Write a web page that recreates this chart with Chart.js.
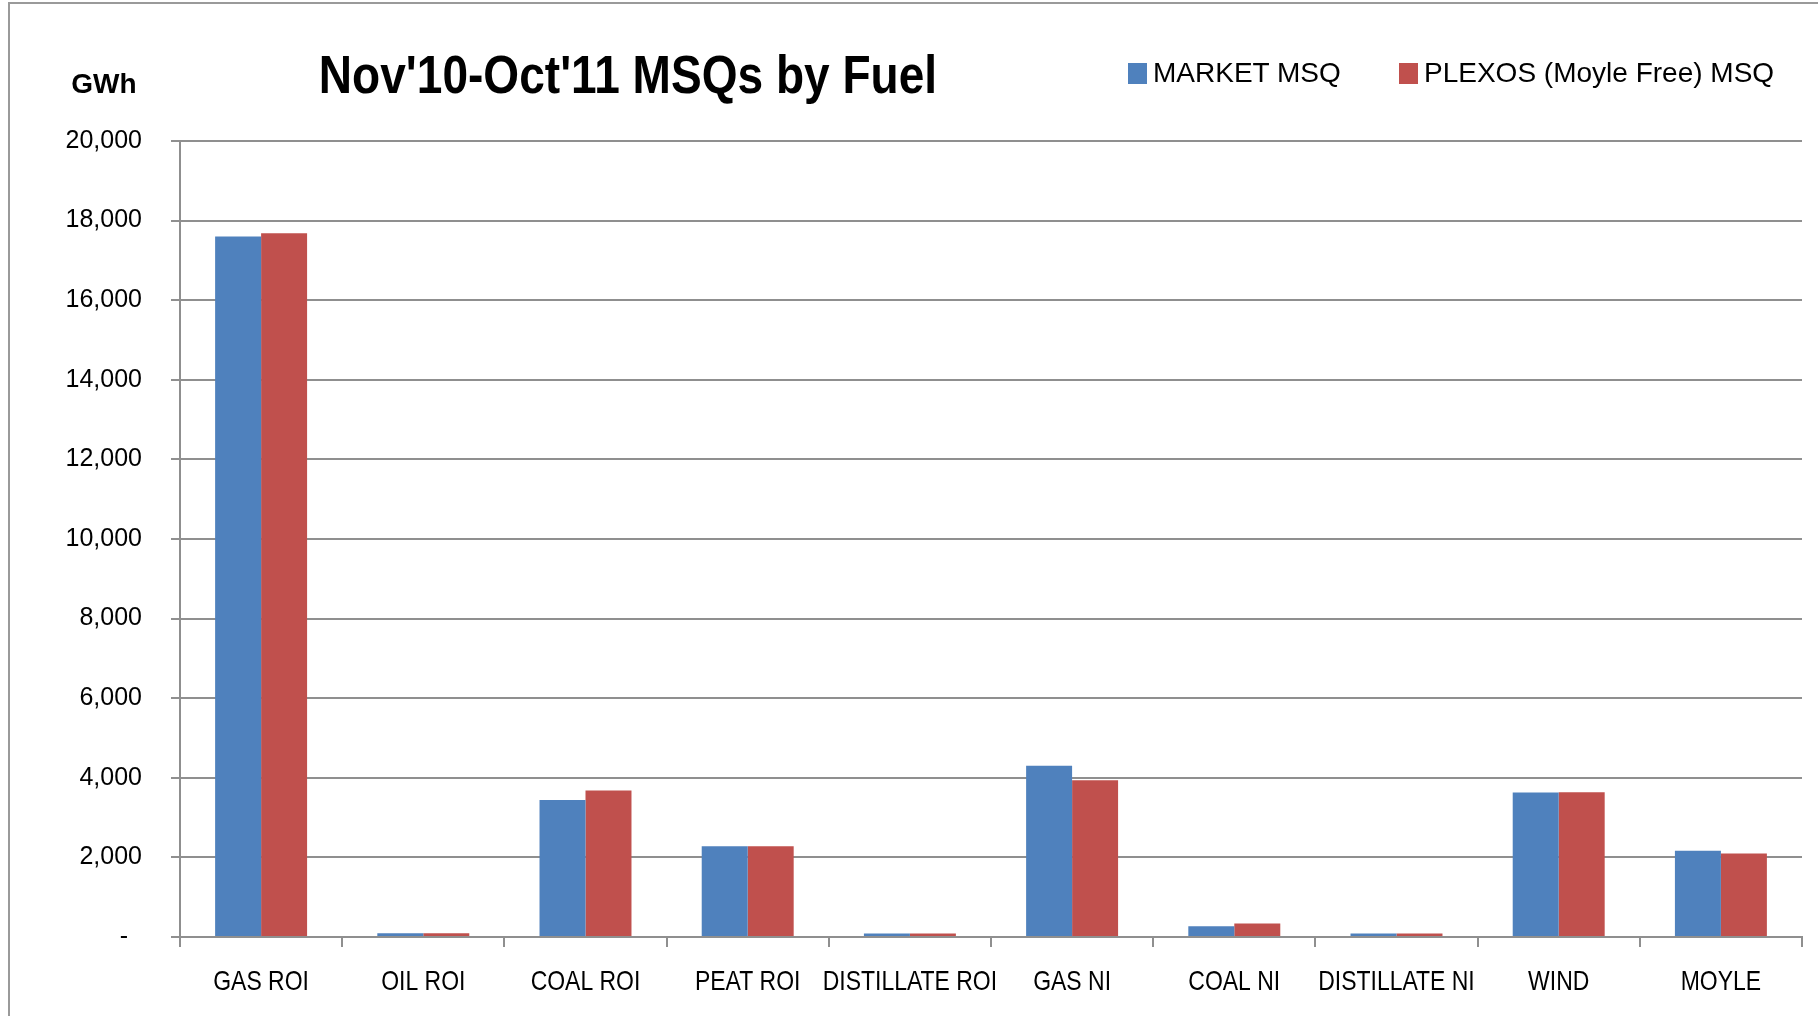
<!DOCTYPE html>
<html lang="en">
<head>
    <meta charset="UTF-8">
    <title>Nov'10-Oct'11 MSQs by Fuel</title>
    <script src="https://cdn.jsdelivr.net/npm/chart.js"></script>
    <style>
        body {
            margin: 0;
            background: #ffffff;
            overflow: hidden;
        }

        .wrap {
            position: relative;
            width: 1818px;
            height: 1016px;
            overflow: hidden;
            background: #ffffff;
        }

        .frame {
            position: absolute;
            left: 8px;
            top: 2px;
            width: 1840px;
            height: 1040px;
            border: 2px solid #9a9a9a;
        }

        canvas {
            position: absolute;
            left: 0;
            top: 0;
        }

        .title {
            position: absolute;
            left: 0;
            top: 47px;
            width: 1256px;
            text-align: center;
            font: bold 54px "Liberation Sans", Arial, sans-serif;
            line-height: 54px;
            color: #000;
            white-space: nowrap;
            transform: scaleX(0.853);
            transform-origin: 628px 0;
        }

        .unit {
            position: absolute;
            left: 54px;
            top: 70px;
            width: 100px;
            text-align: center;
            font: bold 28px "Liberation Sans", Arial, sans-serif;
            line-height: 28px;
            color: #000;
        }

        .legend-item {
            position: absolute;
            top: 59px;
            height: 30px;
            font: 28px "Liberation Sans", Arial, sans-serif;
            line-height: 28px;
            color: #000;
            white-space: nowrap;
        }

        .legend-item span.box {
            position: absolute;
            left: 0;
            top: 4px;
            width: 19px;
            height: 21px;
        }

        .legend-item span.txt {
            position: absolute;
            left: 25px;
            top: 0;
        }
    </style>
</head>
<body>
    <div class="wrap">
        <div class="frame"></div>
        <canvas id="msq-chart" width="1818" height="1016"></canvas>
        <div class="title">Nov'10-Oct'11 MSQs by Fuel</div>
        <div class="unit">GWh</div>
        <div id="legend"></div>
    </div>

    <script>
        // Values
        const fuels = ['GAS ROI', 'OIL ROI', 'COAL ROI', 'PEAT ROI', 'DISTILLATE ROI',
                       'GAS NI', 'COAL NI', 'DISTILLATE NI', 'WIND', 'MOYLE'];
        const marketMsq = [17600, 95, 3440, 2280, 85, 4300, 270, 85, 3630, 2170];
        const plexosMsq = [17680, 95, 3680, 2280, 85, 3940, 340, 85, 3640, 2100];
        const seriesNames = ['MARKET MSQ', 'PLEXOS (Moyle Free) MSQ'];
        const seriesColors = ['#4F81BD', '#C0504D'];
        const yTicks = [0, 2000, 4000, 6000, 8000, 10000, 12000, 14000, 16000, 18000, 20000];

        const gridColor = '#8f8f8f';

        // HTML legend
        const legendPos = [1128, 1399];
        const legendEl = document.getElementById('legend');
        seriesNames.forEach((name, i) => {
            const item = document.createElement('div');
            item.className = 'legend-item';
            item.style.left = legendPos[i] + 'px';
            item.innerHTML = '<span class="box" style="background:' + seriesColors[i] + '"></span>' +
                             '<span class="txt">' + name + '</span>';
            legendEl.appendChild(item);
        });

        // Category labels drawn condensed (no narrow font installed)
        const narrowXLabels = {
            id: 'narrowXLabels',
            afterDraw(chart) {
                const { ctx, scales: { x } } = chart;
                ctx.save();
                ctx.font = '28px "Liberation Sans", Arial, sans-serif';
                ctx.fillStyle = '#000';
                ctx.textAlign = 'center';
                ctx.textBaseline = 'alphabetic';
                chart.data.labels.forEach((label, i) => {
                    ctx.save();
                    ctx.translate(x.getPixelForTick(i), x.top + 53);
                    ctx.scale(0.82, 1);
                    ctx.fillText(label, 0, 0);
                    ctx.restore();
                });
                ctx.restore();
            }
        };

        const chart = new Chart(document.getElementById('msq-chart'), {
            type: 'bar',
            data: {
                labels: fuels,
                datasets: [
                    {
                        label: seriesNames[0],
                        data: marketMsq,
                        backgroundColor: seriesColors[0],
                        borderWidth: 0,
                    },
                    {
                        label: seriesNames[1],
                        data: plexosMsq,
                        backgroundColor: seriesColors[1],
                        borderWidth: 0,
                    },
                ],
            },
            options: {
                responsive: false,
                animation: false,
                devicePixelRatio: 1,
                categoryPercentage: 0.567,
                barPercentage: 1,
                layout: {
                    padding: { top: 141, right: 16, bottom: 0, left: 0 },
                },
                plugins: {
                    legend: { display: false },
                    title: { display: false },
                    tooltip: { enabled: false },
                },
                scales: {
                    x: {
                        afterFit(scale) { scale.height = 79; },
                        grid: {
                            display: true,
                            drawOnChartArea: false,
                            drawTicks: true,
                            tickLength: 10,
                            color: gridColor,
                            lineWidth: 2,
                        },
                        border: { color: gridColor, width: 2 },
                        ticks: {
                            color: 'rgba(0,0,0,0)',
                            padding: 16,
                            maxRotation: 0,
                            autoSkip: false,
                            font: { family: '"Liberation Sans", Arial, sans-serif', size: 20 },
                        },
                    },
                    y: {
                        min: 0,
                        max: 20000,
                        afterFit(scale) { scale.width = 180; },
                        afterBuildTicks(scale) {
                            scale.ticks = yTicks.map(v => ({ value: v }));
                        },
                        grid: {
                            color: gridColor,
                            lineWidth: 2,
                            drawTicks: true,
                            tickLength: 9,
                        },
                        border: { color: gridColor, width: 2 },
                        ticks: {
                            color: '#000',
                            padding: 29,
                            font: { family: '"Liberation Sans", Arial, sans-serif', size: 25 },
                            callback: v => v === 0 ? '-  ' : v.toLocaleString('en-US'),
                        },
                    },
                },
            },
            plugins: [narrowXLabels],
        });
    </script>
</body>
</html>
